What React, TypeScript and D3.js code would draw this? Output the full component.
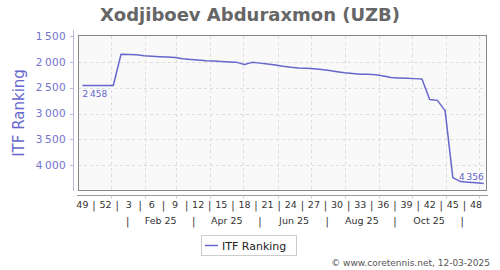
import React from "react";
import * as d3 from "d3";

const TITLE = "Xodjiboev Abduraxmon (UZB)";
const SERIES_NAME = "ITF Ranking";
const FIRST_WEEK = "2024-12-06";
const rankings = [
  2458, 2458, 2458, 2458, 2458, 1855, 1858, 1862, 1880, 1890,
  1900, 1908, 1915, 1942, 1955, 1965, 1978, 1985, 1995, 2003,
  2010, 2050, 2010, 2025, 2040, 2060, 2085, 2105, 2118, 2122,
  2135, 2150, 2170, 2190, 2210, 2225, 2238, 2242, 2250, 2275,
  2305, 2312, 2318, 2325, 2333, 2727, 2746, 2944, 4240, 4318,
  4330, 4342, 4356,
];
const yTicks = [1500, 2000, 2500, 3000, 3500, 4000];
const weekLabels = ["49", "52", "3", "6", "9", "12", "15", "18", "21", "24", "27", "30", "33", "36", "39", "42", "45", "48"];
const monthLabels = ["Feb 25", "Apr 25", "Jun 25", "Aug 25", "Oct 25"];
const monthLabelStarts = ["2025-02-01", "2025-04-01", "2025-06-01", "2025-08-01", "2025-10-01"];
const COPYRIGHT = "© www.coretennis.net, 12-03-2025";

const FONT = "DejaVu Sans, Verdana, sans-serif";
const LINE = "#6666cc";

const fmt = (v: number) => {
  const s = String(v);
  return s.length > 3 ? s.slice(0, s.length - 3) + "\u2009" + s.slice(-3) : s;
};

export default function App() {
  const W = 500, H = 270;
  const left = 78, right = 487, top = 36, bottom = 191;
  const parse = d3.utcParse("%Y-%m-%d");
  const start = parse(FIRST_WEEK) as Date;
  const x = d3.scaleUtc()
    .domain([parse("2024-12-02") as Date, parse("2025-12-08") as Date])
    .range([left, right]);
  const y = d3.scaleLinear().domain([1500, 4500]).range([top, bottom]);

  const data = rankings.map((v, i) => ({ date: d3.utcDay.offset(start, 7 * i), v }));
  const line = d3.line<{ date: Date; v: number }>().x((d) => x(d.date)).y((d) => y(d.v));

  const monthTicks = d3.utcMonth.range(parse("2025-01-01") as Date, parse("2025-12-02") as Date);
  const weekPos = weekLabels.map((_, i) => x(d3.utcDay.offset(start, 21 * i)));
  const weekSeps = weekPos.slice(1).map((p, i) => (p + weekPos[i]) / 2);
  const monthPos = monthLabelStarts.map((s) => {
    const a = parse(s) as Date;
    const b = d3.utcMonth.offset(a, 1);
    return (x(a) + x(b)) / 2;
  });
  const step = monthPos[1] - monthPos[0];
  const monthSeps = [monthPos[0] - step / 2, ...monthPos.map((p) => p + step / 2)];

  const first = data[0];
  const last = data[data.length - 1];

  return (
    <svg width={W} height={H} style={{ position: "absolute", left: 0, top: 0, fontFamily: FONT }}>
      <rect x={0} y={0} width={W} height={H} fill="#ffffff" />
      <text x={250} y={21} textAnchor="middle" fontSize={18} fontWeight="bold" fill="#666666">
        {TITLE}
      </text>

      <rect x={left} y={top - 0.5} width={right - left} height={bottom - top} fill="#f9f9f9" />
      {yTicks.slice(1).map((t) => (
        <line key={t} x1={left} x2={right} y1={Math.round(y(t)) + 0.5} y2={Math.round(y(t)) + 0.5}
          stroke="#dddddd" strokeDasharray="3,3" />
      ))}
      {monthTicks.map((d, i) => (
        <line key={i} x1={Math.round(x(d)) + 0.5} x2={Math.round(x(d)) + 0.5} y1={top} y2={bottom}
          stroke="#dddddd" strokeDasharray="3,3" />
      ))}
      <rect x={left + 0.5} y={top - 0.5} width={right - left - 1} height={bottom - top} fill="none" stroke="#888888" />

      <path d={line(data) || ""} fill="none" stroke={LINE} strokeWidth={1.5} strokeLinejoin="round" />
      <text x={x(first.date)} y={y(first.v) + 11.5} fontSize={9} fill={LINE}>{fmt(first.v)}</text>
      <text x={x(last.date)} y={y(last.v) - 4} fontSize={9} fill={LINE} textAnchor="end">{fmt(last.v)}</text>

      {/* Y axis */}
      <line x1={73.5} x2={73.5} y1={top - 6} y2={bottom} stroke="#b8b8e0" />
      {yTicks.map((t) => (
        <g key={t}>
          <line x1={70} x2={73.5} y1={Math.round(y(t)) + 0.5} y2={Math.round(y(t)) + 0.5} stroke="#b8b8e0" />
          <text x={66} y={y(t)} dy="0.36em" textAnchor="end" fontSize={10.5} fill="#7373cc" letterSpacing={0.3}>
            {fmt(t)}
          </text>
        </g>
      ))}
      <text transform="translate(24,113) rotate(-90)" textAnchor="middle" fontSize={15} fill="#6666cc">
        {SERIES_NAME}
      </text>

      {/* X axis */}
      <line x1={left - 1} x2={right + 1} y1={195.5} y2={195.5} stroke="#999999" />
      {monthTicks.map((d, i) => (
        <line key={i} x1={Math.round(x(d)) + 0.5} x2={Math.round(x(d)) + 0.5} y1={195.5} y2={198.5} stroke="#cccccc" />
      ))}
      {weekLabels.map((l, i) => (
        <text key={l + i} x={weekPos[i]} y={208.3} textAnchor="middle" fontSize={9.5} fill="#333333">{l}</text>
      ))}
      {weekSeps.map((p, i) => (
        <text key={i} x={p} y={208.8} textAnchor="middle" fontSize={10} fill="#333333">|</text>
      ))}
      {monthLabels.map((l, i) => (
        <text key={l} x={monthPos[i]} y={223.7} textAnchor="middle" fontSize={9.5} fill="#333333">{l}</text>
      ))}
      {monthSeps.map((p, i) => (
        <text key={i} x={p} y={224.5} textAnchor="middle" fontSize={10} fill="#333333">|</text>
      ))}

      {/* Legend */}
      <rect x={201.5} y={235.5} width={95} height={20} fill="#ffffff" stroke="#cccccc" />
      <line x1={205} x2={218} y1={245.5} y2={245.5} stroke={LINE} strokeWidth={1.5} />
      <text x={222} y={249.5} fontSize={11} fill="#222222">{SERIES_NAME}</text>

      <text x={490} y={266} textAnchor="end" fontSize={9} fill="#555555">{COPYRIGHT}</text>
    </svg>
  );
}
